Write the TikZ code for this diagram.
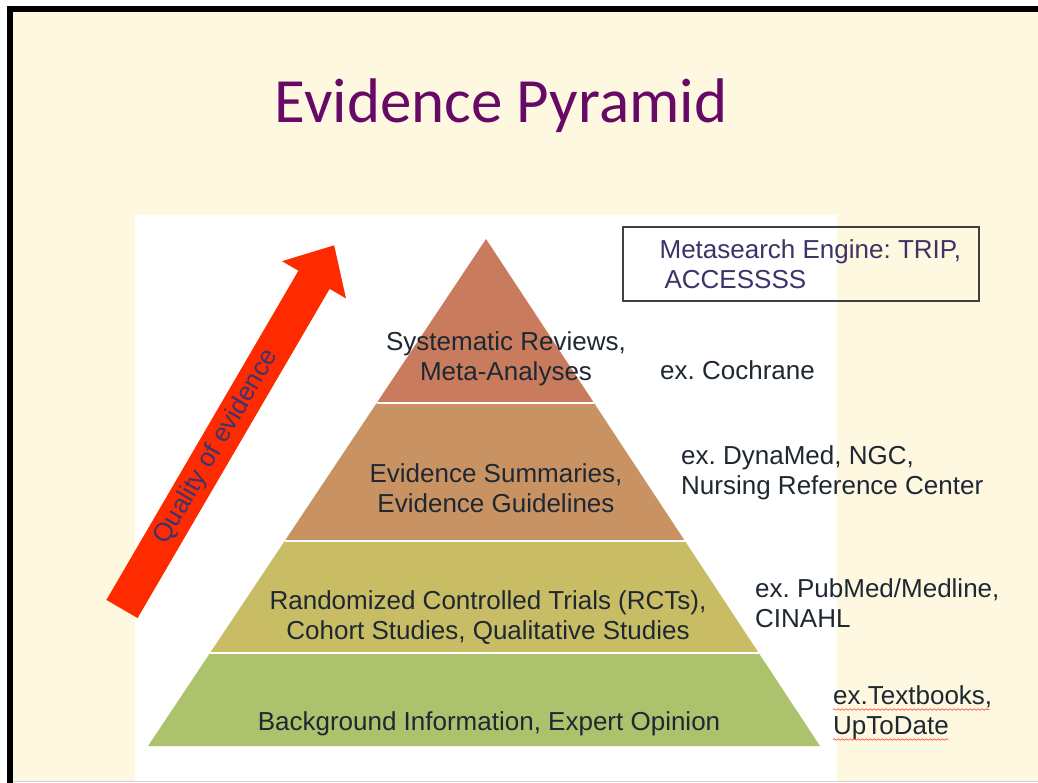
\documentclass[tikz,border=0pt]{standalone}
\usepackage{fontspec}
\setmainfont{Liberation Sans}
\newfontfamily\titlefont{Carlito}
\frenchspacing
\usetikzlibrary{calc,decorations.pathmorphing}
\definecolor{cream}{HTML}{FFF8E0}
\definecolor{titlepurple}{HTML}{660A66}
\definecolor{txt}{HTML}{1E2832}
\definecolor{metapurple}{HTML}{3E3268}
\definecolor{qred}{HTML}{FF2B00}
\definecolor{qtext}{HTML}{3A3570}
\definecolor{top}{HTML}{C97B5E}
\definecolor{upper}{HTML}{C99263}
\definecolor{lower}{HTML}{C8BC64}
\definecolor{base}{HTML}{ACC26C}
\tikzstyle{lbl}=[inner sep=0, align=center, text=txt, font=\fontsize{26}{30}\selectfont]
\tikzstyle{ex}=[inner sep=0, align=left, anchor=west, text=txt, font=\fontsize{26}{30}\selectfont]
\tikzstyle{sep}=[white, line width=2pt]
\tikzstyle{wavy}=[red!75, line width=0.6pt, decorate, decoration={snake, amplitude=0.8pt, segment length=4pt}]

\begin{document}
\begin{tikzpicture}[x=1pt,y=-1pt]
    \useasboundingbox (0,0) rectangle (1038,783);
    % slide
    \fill[white] (0,0) rectangle (1038,783);
    \fill[cream] (10,9) rectangle (1038,781);
    \draw[black, line width=6pt] (10,783) -- (10,9) -- (1038,9);
    \draw[gray!35, line width=1pt] (13,781.5) -- (1038,781.5);
    \fill[white] (135,215) rectangle (837,781);
    \node (title) [anchor=base, text=titlepurple, font=\titlefont\fontsize{63}{70}\selectfont] at (501,123) {Evidence Pyramid};

    % pyramid
    \coordinate (a) at (486,239);
    \coordinate (l) at (148,746);
    \coordinate (r) at (820,746);
    \coordinate (l1) at ($(a)!0.3235!(l)$);
    \coordinate (r1) at ($(a)!0.3235!(r)$);
    \coordinate (l2) at ($(a)!0.5957!(l)$);
    \coordinate (r2) at ($(a)!0.5957!(r)$);
    \coordinate (l3) at ($(a)!0.8166!(l)$);
    \coordinate (r3) at ($(a)!0.8166!(r)$);
    \fill[top]   (a) -- (r1) -- (l1) -- cycle;
    \fill[upper] (l1) -- (r1) -- (r2) -- (l2) -- cycle;
    \fill[lower] (l2) -- (r2) -- (r3) -- (l3) -- cycle;
    \fill[base]  (l3) -- (r3) -- (r) -- (l) -- cycle;
    \draw[sep] (l1) -- (r1);
    \draw[sep] (l2) -- (r2);
    \draw[sep] (l3) -- (r3);

    \node (sr)  [lbl] at (506,358.5) {Systematic Reviews,\\Meta-Analyses};
    \node (es)  [lbl] at (496,488)   {Evidence Summaries,\\Evidence Guidelines};
    \node (rct) [lbl] at (488,618)   {Randomized Controlled Trials (RCTs),\\Cohort Studies, Qualitative Studies};
    \node (bg)  [lbl, anchor=base] at (489,730) {Background Information, Expert Opinion};

    % quality arrow
    \fill[qred] (106.4,599.9) -- (298.4,270.7) -- (282.0,261.2) -- (334.2,245.3)
        -- (346.0,298.4) -- (329.6,288.9) -- (137.6,618.1) -- cycle;
    \node (q) [rotate=59.7, inner sep=0, text=qtext, font=\fontsize{26}{30}\selectfont] at (216.5,447) {Quality of evidence};

    % sources
    \node (meta) [draw=black!75, line width=1.2pt, minimum width=356, minimum height=74, inner sep=0] at (801,264) {};
    \node (metatxt) [ex, text=metapurple] at ($(meta.west)+(37,0)$) {Metasearch Engine: TRIP,\\\hspace{5pt}ACCESSSS};
    \node (coch) [ex] at (660,370)   {ex. Cochrane};
    \node (dyna) [ex] at (681,472.5) {ex. DynaMed, NGC,\\Nursing Reference Center};
    \node (pub)  [ex] at (755,603)   {ex. PubMed/Medline,\\CINAHL};
    \node (tb)   [ex] at (833,713)   {ex.Textbooks,\\UpToDate};
    \draw[wavy] (833,709.5) -- (989,709.5);
    \draw[wavy] (833,739.5) -- (948,739.5);
\end{tikzpicture}
\end{document}
